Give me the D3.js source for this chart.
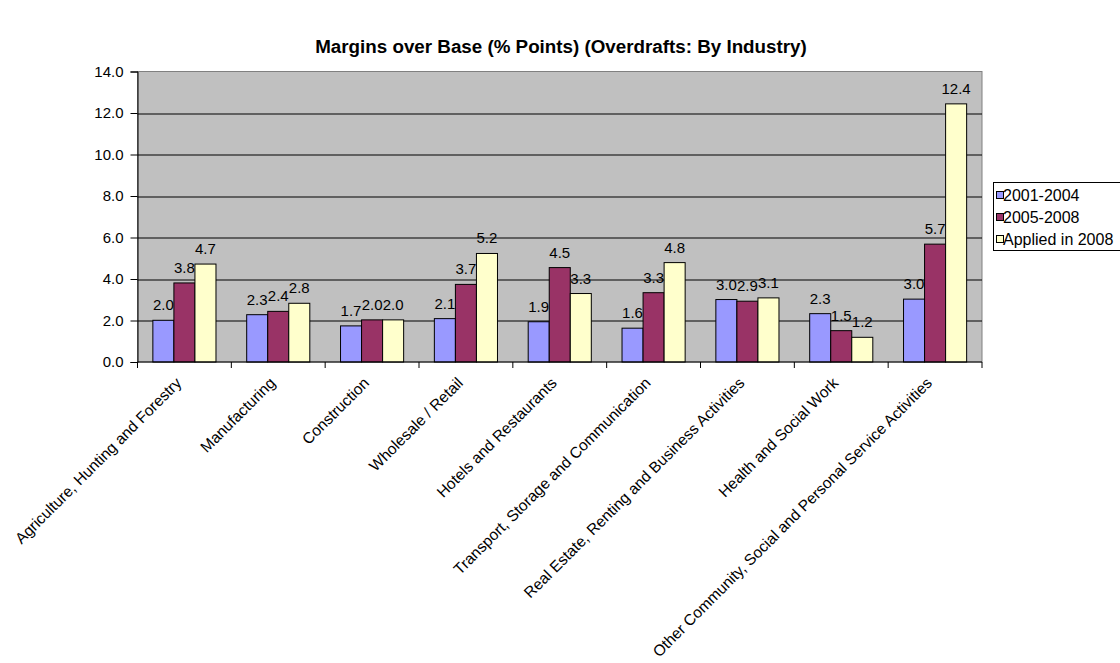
<!DOCTYPE html>
<html>
<head>
<meta charset="utf-8">
<script src="https://cdn.jsdelivr.net/npm/d3@7"></script>
<style>
  body { margin: 0; background: #fff; }
  text { font-family: "Liberation Sans", Arial, sans-serif; }
</style>
</head>
<body>
<div class="chart"></div>
<script>
// data
const industries = [
    'Agriculture, Hunting and Forestry',
    'Manufacturing',
    'Construction',
    'Wholesale / Retail',
    'Hotels and Restaurants',
    'Transport, Storage and Communication',
    'Real Estate, Renting and Business Activities',
    'Health and Social Work',
    'Other Community, Social and Personal Service Activities'
];
const seriesNames = ['2001-2004', '2005-2008', 'Applied in 2008'];
const margins2001_2004 = [2.01, 2.28, 1.74, 2.09, 1.94, 1.63, 3.01, 2.33, 3.03];
const margins2005_2008 = [3.81, 2.44, 2.03, 3.74, 4.55, 3.34, 2.93, 1.51, 5.68];
const marginsApplied2008 = [4.72, 2.83, 2.03, 5.23, 3.30, 4.79, 3.09, 1.19, 12.44];
const yTicks = [0, 2, 4, 6, 8, 10, 12, 14];

const colours = ['#9999FF', '#993366', '#FFFFCC'];

const W = 1120, H = 663;
const margin = ({top: 71.5, right: 138, bottom: 301, left: 137.5});
const width = W - margin.left - margin.right;
const height = H - margin.top - margin.bottom;

const svg = d3.select('.chart').append('svg')
    .attr('width', W)
    .attr('height', H);

svg.append('text')
    .attr('x', 561)
    .attr('y', 53)
    .attr('text-anchor', 'middle')
    .style('font-size', '18.8px')
    .style('font-weight', 'bold')
    .text('Margins over Base (% Points) (Overdrafts: By Industry)');

const g = svg.append('g')
    .attr('transform', 'translate(' + margin.left + ',' + margin.top + ')');

const xScale = d3.scaleBand()
    .domain(industries)
    .range([0, width]);

// Excel-style gap width of about 150%
const xInner = d3.scaleBand()
    .domain(seriesNames)
    .range([0, xScale.bandwidth()])
    .paddingOuter(0.73);

const yScale = d3.scaleLinear()
    .domain([0, 14])
    .range([height, 0]);

// plot background
g.append('rect')
    .attr('width', width)
    .attr('height', height)
    .attr('fill', '#C0C0C0')
    .attr('stroke', '#808080')
    .attr('stroke-width', 1);

// gridlines
g.selectAll('.grid')
    .data(yTicks.filter(d => d > 0 && d < 14))
    .enter().append('line')
    .attr('x1', 0)
    .attr('x2', width)
    .attr('y1', d => Math.round(yScale(d)) + 0.5)
    .attr('y2', d => Math.round(yScale(d)) + 0.5)
    .attr('stroke', '#000')
    .attr('stroke-width', 1);

// bars
const series = [margins2001_2004, margins2005_2008, marginsApplied2008];
const groups = g.selectAll('.group')
    .data(industries)
    .enter().append('g')
    .attr('transform', d => 'translate(' + xScale(d) + ',0)');

groups.selectAll('rect')
    .data((d, i) => series.map((s, j) => ({name: seriesNames[j], value: s[i], k: j})))
    .enter().append('rect')
    .attr('x', d => xInner(d.name))
    .attr('y', d => yScale(d.value))
    .attr('width', xInner.bandwidth())
    .attr('height', d => height - yScale(d.value))
    .attr('fill', d => colours[d.k])
    .attr('stroke', '#000')
    .attr('stroke-width', 1);

groups.selectAll('.lbl')
    .data((d, i) => series.map((s, j) => ({name: seriesNames[j], value: s[i]})))
    .enter().append('text')
    .attr('x', d => xInner(d.name) + xInner.bandwidth() / 2)
    .attr('y', d => yScale(d.value) - 10)
    .attr('text-anchor', 'middle')
    .style('font-size', '15px')
    .attr('fill', '#000')
    .text(d => d3.format('.1f')(d.value));

// y axis
const yAxis = d3.axisLeft(yScale)
    .tickValues(yTicks)
    .tickFormat(d3.format('.1f'))
    .tickSize(7)
    .tickPadding(7);

g.append('g')
    .call(yAxis)
    .call(a => a.selectAll('text').style('font-size', '15px').attr('fill', '#000'))
    .call(a => a.selectAll('line, path').attr('stroke', '#000'));

// x axis: ticks on category boundaries
g.append('line')
    .attr('x1', 0).attr('x2', width)
    .attr('y1', height).attr('y2', height)
    .attr('stroke', '#000');

g.selectAll('.xtick')
    .data(d3.range(industries.length + 1))
    .enter().append('line')
    .attr('x1', i => i * xScale.step())
    .attr('x2', i => i * xScale.step())
    .attr('y1', height)
    .attr('y2', height + 6)
    .attr('stroke', '#000');

g.selectAll('.xlabel')
    .data(industries)
    .enter().append('text')
    .attr('transform', d => 'translate(' + (xScale(d) + xScale.bandwidth() / 2 - 2) + ',' + (height + 22) + ') rotate(-45)')
    .attr('text-anchor', 'end')
    .style('font-size', '15.5px')
    .text(d => d);

// legend
const legend = svg.append('g')
    .attr('transform', 'translate(993,182)');

legend.append('rect')
    .attr('x', 0.5).attr('y', 0.5)
    .attr('width', 140).attr('height', 68)
    .attr('fill', '#fff')
    .attr('stroke', '#000');

seriesNames.forEach((name, i) => {
    legend.append('rect')
        .attr('x', 3.5)
        .attr('y', 9.5 + i * 22)
        .attr('width', 7)
        .attr('height', 7)
        .attr('fill', colours[i])
        .attr('stroke', '#000');
    legend.append('text')
        .attr('x', 10)
        .attr('y', 18.5 + i * 22)
        .style('font-size', '16px')
        .text(name);
});
</script>
</body>
</html>
